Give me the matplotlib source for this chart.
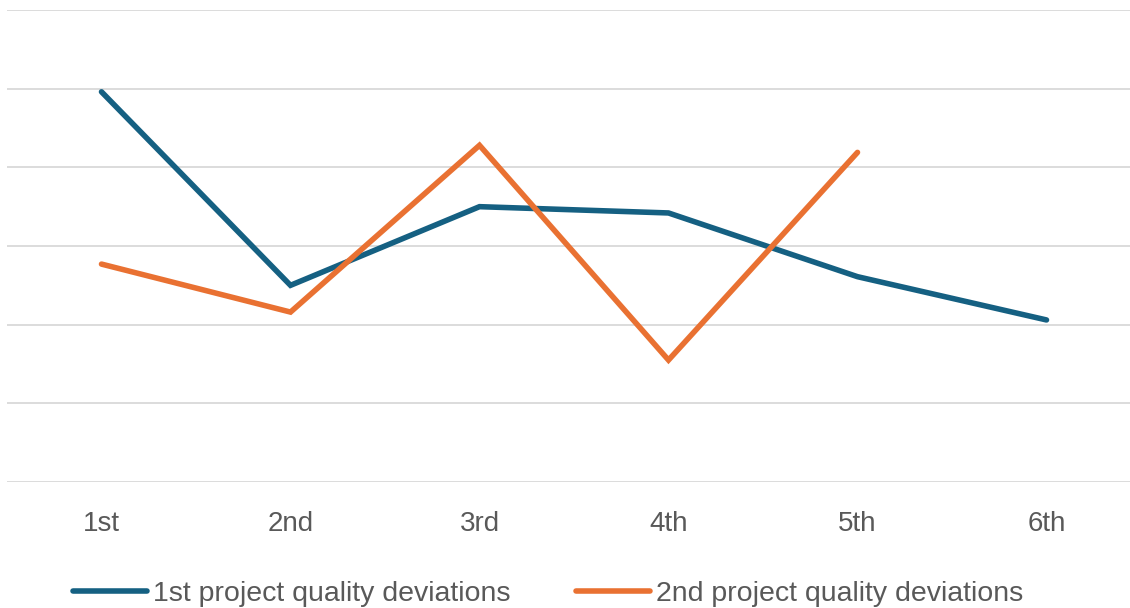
import matplotlib.pyplot as plt

# categories and series values
rounds = ["1st", "2nd", "3rd", "4th", "5th", "6th"]
first_project = [4.96, 2.5, 3.5, 3.42, 2.61, 2.06]
second_project = [2.77, 2.16, 4.28, 1.55, 4.19]

blue = "#156082"
orange = "#E97132"
grey_text = "#595959"
grid_grey = "#D9D9D9"

plt.rcParams['font.family'] = ['Liberation Sans', 'DejaVu Sans']

fig = plt.figure(figsize=(11.3, 6.08), dpi=100)
fig.patch.set_facecolor('white')
ax = fig.add_axes([7 / 1130, 126 / 608, 1134 / 1130, 472 / 608])

x1 = list(range(len(first_project)))
x2 = list(range(len(second_project)))
ax.plot(x1, first_project, color=blue, linewidth=4.0, solid_capstyle='round',
        solid_joinstyle='miter', label="1st project quality deviations")
ax.plot(x2, second_project, color=orange, linewidth=4.0, solid_capstyle='round',
        solid_joinstyle='miter', label="2nd project quality deviations")

ax.set_xlim(-0.5, len(rounds) - 0.5)
ax.set_ylim(0, 6)
ax.set_yticks(range(0, 7))
ax.yaxis.grid(True, color=grid_grey, linewidth=1.3)
ax.set_axisbelow(True)
ax.tick_params(axis='y', left=False, labelleft=False)
ax.set_xticks(x1)
ax.set_xticklabels(rounds, color=grey_text, fontsize=20)
ax.tick_params(axis='x', length=0, pad=21)
for side in ['top', 'right', 'left', 'bottom']:
    ax.spines[side].set_visible(False)

leg = fig.legend(loc='center', bbox_to_anchor=(548 / 1130, 1 - 594 / 608), ncol=2,
                 frameon=False, fontsize=20.5, handlelength=2.6, handletextpad=0.2,
                 columnspacing=2.3, labelcolor=grey_text)

fig.savefig("out.png", dpi=100)
